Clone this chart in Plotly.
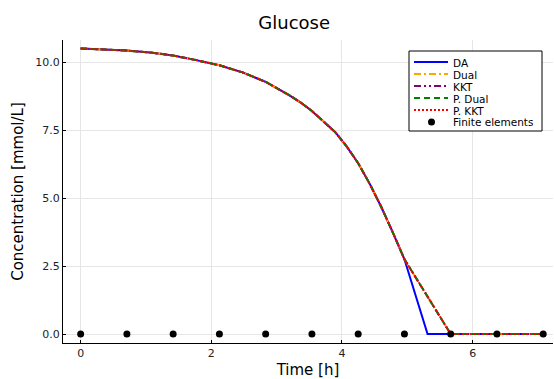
import plotly.graph_objects as go

# Shared glucose profile up to the switching time (h, mmol/L)
t_common = [0.0, 0.354, 0.708, 1.062, 1.416, 1.770, 2.124, 2.478, 2.832,
            3.186, 3.363, 3.540, 3.717, 3.894, 4.071, 4.248, 4.425, 4.602,
            4.779, 4.956]
c_common = [10.50, 10.47, 10.42, 10.35, 10.24, 10.07, 9.88, 9.62, 9.27,
            8.79, 8.52, 8.20, 7.83, 7.43, 6.90, 6.28, 5.52, 4.67,
            3.73, 2.75]

# DA tail: depletes faster
t_da_tail = [5.31, 5.664, 6.372, 7.08]
c_da_tail = [0.0, 0.0, 0.0, 0.0]

# Optimisation-based tails (Dual, KKT, P. Dual, P. KKT)
t_opt_tail = [5.664, 6.372, 7.08]
c_opt_tail = [0.0, 0.0, 0.0]

# Finite element boundaries
t_fe = [0.0, 0.708, 1.416, 2.124, 2.832, 3.540, 4.248, 4.956, 5.664, 6.372, 7.08]
c_fe = [0.0] * len(t_fe)

series = [
    ("DA", "#0000ff", "solid", t_da_tail, c_da_tail),
    ("Dual", "#ffa500", "7px,3px,2px,3px", t_opt_tail, c_opt_tail),
    ("KKT", "#800080", "7px,3px,2px,3px,2px,3px", t_opt_tail, c_opt_tail),
    ("P. Dual", "#008000", "6px,4px", t_opt_tail, c_opt_tail),
    ("P. KKT", "#ff0000", "2px,2px", t_opt_tail, c_opt_tail),
]

W, H = 554, 379
ML, MR, MT, MB = 63, 1, 40, 36
PW, PH = W - ML - MR, H - MT - MB


def px(x):
    return (x - ML) / PW


def py(y):
    return 1 - (y - MT) / PH


fig = go.Figure()
for name, color, dash, tt, cc in series:
    fig.add_trace(go.Scatter(
        x=t_common + tt, y=c_common + cc, mode="lines", name=name,
        line=dict(color=color, width=2, dash=dash), showlegend=False,
    ))

fig.add_trace(go.Scatter(
    x=t_fe, y=c_fe, mode="markers", name="Finite elements",
    marker=dict(color="black", size=7), showlegend=False,
))

# Compact legend box
shapes = [dict(type="rect", xref="paper", yref="paper",
               x0=px(409), x1=px(542), y0=py(131), y1=py(51),
               line=dict(color="black", width=1), fillcolor="white", layer="above")]
annotations = []
row_y = [62, 74, 86, 98, 110, 122]
labels = [s[0] for s in series] + ["Finite elements"]
for i, (name, color, dash, _, _) in enumerate(series):
    yy = py(row_y[i])
    shapes.append(dict(type="line", xref="paper", yref="paper",
                       x0=px(414), x1=px(448), y0=yy, y1=yy,
                       line=dict(color=color, width=2, dash=dash), layer="above"))
yy = row_y[5]
shapes.append(dict(type="circle", xref="paper", yref="paper",
                   x0=px(428), x1=px(435), y0=py(yy + 3.5), y1=py(yy - 3.5),
                   line=dict(color="black", width=0), fillcolor="black", layer="above"))
for i, lab in enumerate(labels):
    annotations.append(dict(text=lab, xref="paper", yref="paper",
                            x=px(452), y=py(row_y[i]), xanchor="left", yanchor="middle",
                            showarrow=False, height=11, borderpad=0,
                            font=dict(size=10.5, family="DejaVu Sans", color="black")))

axis_common = dict(
    showgrid=True, gridcolor="#e6e6e6", gridwidth=1,
    showline=True, linecolor="black", linewidth=1, mirror=False,
    ticks="inside", ticklen=3, tickcolor="black",
    zeroline=False,
    tickfont=dict(size=11, color="#222222", family="DejaVu Sans"),
    title_font=dict(size=15, color="black", family="DejaVu Sans"),
)

fig.update_layout(
    width=W, height=H,
    margin=dict(l=ML, r=MR, t=MT, b=MB),
    paper_bgcolor="white", plot_bgcolor="white",
    font=dict(family="DejaVu Sans", color="black"),
    title=dict(text="Glucose", x=0.531, xanchor="center", y=0.94, yanchor="middle",
               font=dict(size=18, color="black", family="DejaVu Sans")),
    xaxis=dict(title=dict(text="Time [h]", standoff=6), range=[-0.27, 7.23],
               tickvals=[0, 2, 4, 6], ticktext=["0", "2", "4", "6"], **axis_common),
    yaxis=dict(title=dict(text="Concentration [mmol/L]", standoff=8), range=[-0.33, 10.81],
               tickvals=[0, 2.5, 5, 7.5, 10],
               ticktext=["0.0", "2.5", "5.0", "7.5", "10.0"], **axis_common),
    shapes=shapes,
    annotations=annotations,
    showlegend=False,
)

fig.write_html("out.html")
